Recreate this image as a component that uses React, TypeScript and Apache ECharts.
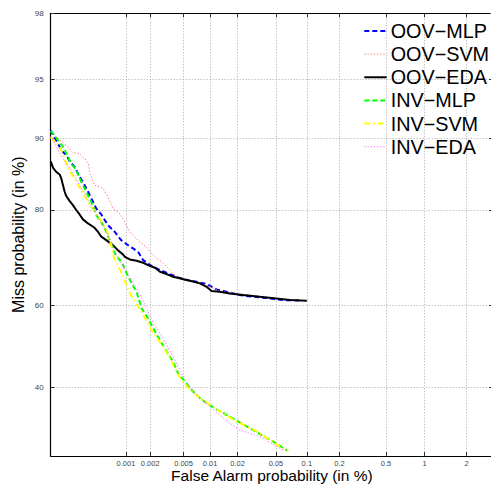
import React, { useEffect, useRef } from 'react';
import * as echarts from 'echarts';

// ---------- tick labels (percent) ----------
const xTickLabels = ['0.001', '0.002', '0.005', '0.01', '0.02', '0.05', '0.1', '0.2', '0.5', '1', '2'];
const yTickLabels = ['40', '60', '80', '90', '95', '98'];
const xLimits = [0.0001, 3]; // False alarm %, axis range
const yLimits = [25, 98]; // Miss %, axis range

const seriesNames = ['OOV−MLP', 'OOV−SVM', 'OOV−EDA', 'INV−MLP', 'INV−SVM', 'INV−EDA'];

// ---------- curves: false alarm (%) and miss (%) ----------
const oovMlpFa = [0.0001, 0.000108, 0.000119, 0.000133, 0.000143, 0.000164, 0.000183, 0.000213, 0.000249, 0.000291, 0.000339, 0.000414, 0.000482, 0.000588, 0.000717, 0.00087, 0.00106, 0.00123, 0.00142, 0.00164, 0.002, 0.00263, 0.00345, 0.00432, 0.00541, 0.00703, 0.00915, 0.0118, 0.0152, 0.0211, 0.0292, 0.0433, 0.0589, 0.0856];
const oovMlpMiss = [90.89, 90.36, 89.83, 89.09, 88.58, 88.1, 87.34, 86.6, 85.23, 84.0, 82.48, 80.27, 79.22, 77.29, 76.04, 74.41, 73.4, 72.73, 72.0, 70.29, 69.22, 68.13, 67.24, 66.51, 65.91, 65.52, 65.0, 63.77, 63.21, 62.44, 62.05, 61.67, 61.28, 61.16];

const oovSvmFa = [0.0001, 0.000149, 0.000173, 0.000194, 0.000251, 0.000291, 0.000325, 0.000339, 0.000394, 0.000507, 0.000588, 0.000682, 0.00083, 0.000963, 0.00111, 0.00141, 0.00179, 0.002, 0.0024, 0.00275, 0.00345, 0.00395, 0.00432, 0.00541, 0.00915, 0.0128, 0.0211, 0.0342, 0.0546, 0.0796];
const oovSvmMiss = [90.71, 89.47, 89.09, 88.49, 88.22, 87.68, 87.05, 85.93, 84.0, 83.52, 82.21, 80.27, 79.4, 77.91, 76.04, 74.41, 73.05, 72.0, 70.65, 69.93, 68.13, 67.02, 66.51, 66.07, 64.76, 63.37, 62.67, 62.21, 61.51, 61.28];

const oovEdaFa = [0.0001, 0.000108, 0.000119, 0.000133, 0.00014, 0.000148, 0.000156, 0.000164, 0.000183, 0.000202, 0.000224, 0.000249, 0.000276, 0.000322, 0.000394, 0.000436, 0.000482, 0.00056, 0.000682, 0.00079, 0.000915, 0.00097, 0.00112, 0.00136, 0.00164, 0.002, 0.00229, 0.00263, 0.00316, 0.00377, 0.005, 0.00591, 0.00769, 0.00915, 0.0104, 0.0128, 0.0165, 0.0229, 0.0342, 0.0503, 0.0686, 0.1];
const oovEdaMiss = [87.3, 86.47, 85.93, 85.56, 85.0, 84.0, 83.0, 82.32, 81.5, 80.83, 80.0, 79.22, 78.34, 77.6, 76.79, 76.04, 75.08, 74.41, 73.4, 72.38, 71.5, 70.99, 70.44, 70.15, 69.72, 69.0, 68.63, 67.76, 67.24, 66.64, 66.07, 65.75, 65.15, 64.37, 63.37, 63.21, 62.84, 62.44, 62.05, 61.67, 61.28, 61.12];

const invMlpFa = [0.0001, 0.000113, 0.000126, 0.000148, 0.000173, 0.000192, 0.000224, 0.000262, 0.000305, 0.000356, 0.000414, 0.000482, 0.00056, 0.000618, 0.000682, 0.000723, 0.000838, 0.000923, 0.00102, 0.00118, 0.00136, 0.00157, 0.00189, 0.00218, 0.00263, 0.00316, 0.00377, 0.00432, 0.00518, 0.00618, 0.00736, 0.00915, 0.0118, 0.0152, 0.0195, 0.027, 0.037, 0.0468, 0.0589, 0.066];
const invMlpMiss = [90.8, 90.36, 89.83, 89.09, 87.89, 87.05, 86.16, 84.5, 83.0, 81.38, 79.1, 77.91, 76.04, 74.41, 72.73, 71.71, 70.29, 69.22, 67.4, 65.15, 63.21, 59.3, 56.88, 54.46, 51.59, 48.73, 46.27, 43.45, 41.43, 39.44, 37.88, 36.35, 34.96, 33.69, 32.42, 30.73, 29.1, 27.93, 26.58, 26.02];

const invSvmFa = [0.0001, 0.000134, 0.000175, 0.000239, 0.000342, 0.00044, 0.000566, 0.000656, 0.0007, 0.000881, 0.00097, 0.00112, 0.00157, 0.00207, 0.00288, 0.00345, 0.00432, 0.00591, 0.00736, 0.01, 0.0139, 0.0195, 0.0317, 0.0433, 0.0589, 0.066];
const invSvmMiss = [90.15, 89.09, 86.39, 84.0, 80.83, 78.8, 76.36, 73.05, 70.99, 67.4, 65.52, 62.84, 58.48, 54.04, 49.95, 47.11, 43.04, 39.44, 37.88, 35.95, 34.07, 32.2, 30.07, 28.28, 26.37, 26.0];

const invEdaFa = [0.0001, 0.000142, 0.000184, 0.000227, 0.000297, 0.000398, 0.000539, 0.000682, 0.00076, 0.00112, 0.00164, 0.00218, 0.00263, 0.00316, 0.00395, 0.00474, 0.00591, 0.00769, 0.01, 0.0128, 0.0165, 0.0211, 0.027, 0.037, 0.0503, 0.0589, 0.064];
const invEdaMiss = [90.26, 87.89, 86.39, 84.75, 82.48, 79.63, 76.54, 73.4, 71.35, 66.64, 61.2, 55.68, 53.24, 50.37, 46.69, 43.45, 40.2, 37.51, 35.56, 33.69, 31.84, 30.36, 29.65, 28.63, 26.91, 26.23, 26.05];

// ---------- normal deviate (probit) scale ----------
function probit(p: number): number {
  const a = [-39.69683028665376, 220.9460984245205, -275.9285104469687, 138.357751867269, -30.66479806614716, 2.506628277459239];
  const b = [-54.47609879822406, 161.5858368580409, -155.6989798598866, 66.80131188771972, -13.28068155288572];
  const c = [-0.007784894002430293, -0.3223964580411365, -2.400758277161838, -2.549671348854144, 4.374664141464968, 2.938163982698783];
  const d = [0.007784695709041462, 0.3224671290700398, 2.445134137142996, 3.754408661907416];
  const plow = 0.02425;
  if (p < plow) {
    const q = Math.sqrt(-2 * Math.log(p));
    return (((((c[0] * q + c[1]) * q + c[2]) * q + c[3]) * q + c[4]) * q + c[5]) / ((((d[0] * q + d[1]) * q + d[2]) * q + d[3]) * q + 1);
  }
  if (p <= 1 - plow) {
    const q = p - 0.5;
    const r = q * q;
    return ((((((a[0] * r + a[1]) * r + a[2]) * r + a[3]) * r + a[4]) * r + a[5]) * q) / (((((b[0] * r + b[1]) * r + b[2]) * r + b[3]) * r + b[4]) * r + 1);
  }
  const q = Math.sqrt(-2 * Math.log(1 - p));
  return -(((((c[0] * q + c[1]) * q + c[2]) * q + c[3]) * q + c[4]) * q + c[5]) / ((((d[0] * q + d[1]) * q + d[2]) * q + d[3]) * q + 1);
}
const pz = (percent: number) => probit(percent / 100);

const xTickVals = xTickLabels.map((s) => pz(parseFloat(s)));
const yTickVals = yTickLabels.map((s) => pz(parseFloat(s)));

function nearestLabel(vals: number[], labels: string[], v: number): string {
  let best = 0;
  let bd = Infinity;
  vals.forEach((t, i) => {
    const dd = Math.abs(t - v);
    if (dd < bd) {
      bd = dd;
      best = i;
    }
  });
  return labels[best];
}

const toPoints = (fa: number[], miss: number[]) => fa.map((f, i) => [pz(f), pz(miss[i])]);

const FONT = '"Liberation Sans", Arial, Helvetica, sans-serif';

export default function App() {
  const ref = useRef<HTMLDivElement>(null);

  useEffect(() => {
    if (!ref.current) return;
    const chart = echarts.init(ref.current, null, { renderer: 'svg' });

    const gridLine = { show: true, lineStyle: { color: '#a8a8a8', width: 1, type: [1, 2] as any } };
    const axisLine = { show: true, onZero: false, lineStyle: { color: '#000', width: 1.2 } };
    const tick = (vals: number[]) => ({
      show: true,
      inside: true,
      length: 4,
      customValues: vals,
      lineStyle: { color: '#333', width: 1 },
    });

    const xMin = pz(xLimits[0]);
    const xMax = pz(xLimits[1]);
    const yMin = pz(yLimits[0]);
    const yMax = pz(yLimits[1]);

    const curves = [
      { name: seriesNames[0], data: toPoints(oovMlpFa, oovMlpMiss), color: '#0000ff', width: 2, type: [5, 3] },
      { name: seriesNames[1], data: toPoints(oovSvmFa, oovSvmMiss), color: '#ff6a6a', width: 1, type: [1.2, 2] },
      { name: seriesNames[2], data: toPoints(oovEdaFa, oovEdaMiss), color: '#000000', width: 2, type: 'solid' },
      { name: seriesNames[3], data: toPoints(invMlpFa, invMlpMiss), color: '#00ff00', width: 2, type: [5, 3] },
      { name: seriesNames[4], data: toPoints(invSvmFa, invSvmMiss), color: '#ffff00', width: 2, type: [6, 3, 1.5, 3] },
      { name: seriesNames[5], data: toPoints(invEdaFa, invEdaMiss), color: '#ff66ff', width: 1, type: [1.2, 2] },
    ];

    // legend drawn as line samples + texts (top-right, inside the plot)
    const legendX = 364.3;
    const legendTop = 31;
    const legendStep = 23.14;
    const legendGraphics: any[] = [];
    curves.forEach((c, i) => {
      const y = legendTop + i * legendStep;
      legendGraphics.push({
        type: 'line',
        silent: true,
        z: 100,
        shape: { x1: legendX, y1: y, x2: legendX + 22.4, y2: y },
        style: {
          stroke: c.color,
          lineWidth: c.width,
          lineDash: c.type === 'solid' ? null : (c.type as any),
        },
      });
      legendGraphics.push({
        type: 'text',
        silent: true,
        z: 100,
        x: legendX + 26.4,
        y,
        style: {
          text: c.name,
          fontSize: 19.8,
          fontFamily: FONT,
          fill: '#000',
          verticalAlign: 'middle',
          align: 'left',
        },
      });
    });

    chart.setOption({
      animation: false,
      backgroundColor: '#ffffff',
      textStyle: { fontFamily: FONT },
      grid: {
        left: 50.7,
        top: 13.3,
        right: -2.1,
        bottom: 29,
        containLabel: false,
        outerBoundsMode: 'none',
      },
      graphic: legendGraphics,
      xAxis: [
        {
          type: 'value',
          position: 'bottom',
          min: xMin,
          max: xMax,
          name: 'False Alarm probability (in %)',
          nameLocation: 'middle',
          nameGap: 11.5,
          nameMoveOverlap: false,
          nameTextStyle: { fontSize: 15.5, color: '#000', fontFamily: FONT },
          axisLine,
          axisTick: tick(xTickVals),
          axisLabel: {
            show: true,
            customValues: xTickVals,
            margin: 3.5,
            fontSize: 7.5,
            color: '#444',
            fontFamily: FONT,
            formatter: (v: number) => nearestLabel(xTickVals, xTickLabels, v),
          },
          splitLine: gridLine,
        },
        {
          type: 'value',
          position: 'top',
          min: xMin,
          max: xMax,
          axisLine,
          axisTick: tick(xTickVals),
          axisLabel: { show: false },
          splitLine: { show: false },
        },
      ],
      yAxis: [
        {
          type: 'value',
          position: 'left',
          min: yMin,
          max: yMax,
          name: 'Miss probability (in %)',
          nameLocation: 'middle',
          nameGap: 24,
          nameMoveOverlap: false,
          nameTextStyle: { fontSize: 16, color: '#000', fontFamily: FONT },
          axisLine,
          axisTick: tick(yTickVals),
          axisLabel: {
            show: true,
            customValues: yTickVals,
            margin: 7,
            fontSize: 8,
            color: '#444',
            fontFamily: FONT,
            formatter: (v: number) => nearestLabel(yTickVals, yTickLabels, v),
          },
          splitLine: gridLine,
        },
        {
          type: 'value',
          position: 'right',
          min: yMin,
          max: yMax,
          axisLine,
          axisTick: tick(yTickVals),
          axisLabel: { show: false },
          splitLine: { show: false },
        },
      ],
      series: curves.map((c) => ({
        name: c.name,
        type: 'line',
        xAxisIndex: 0,
        yAxisIndex: 0,
        data: c.data,
        showSymbol: false,
        symbol: 'none',
        silent: true,
        clip: true,
        color: c.color,
        lineStyle: { color: c.color, width: c.width, type: c.type as any },
      })),
    });

    return () => {
      chart.dispose();
    };
  }, []);

  return (
    <div
      ref={ref}
      style={{ position: 'absolute', left: 0, top: 0, width: 491, height: 485, background: '#fff' }}
    />
  );
}
